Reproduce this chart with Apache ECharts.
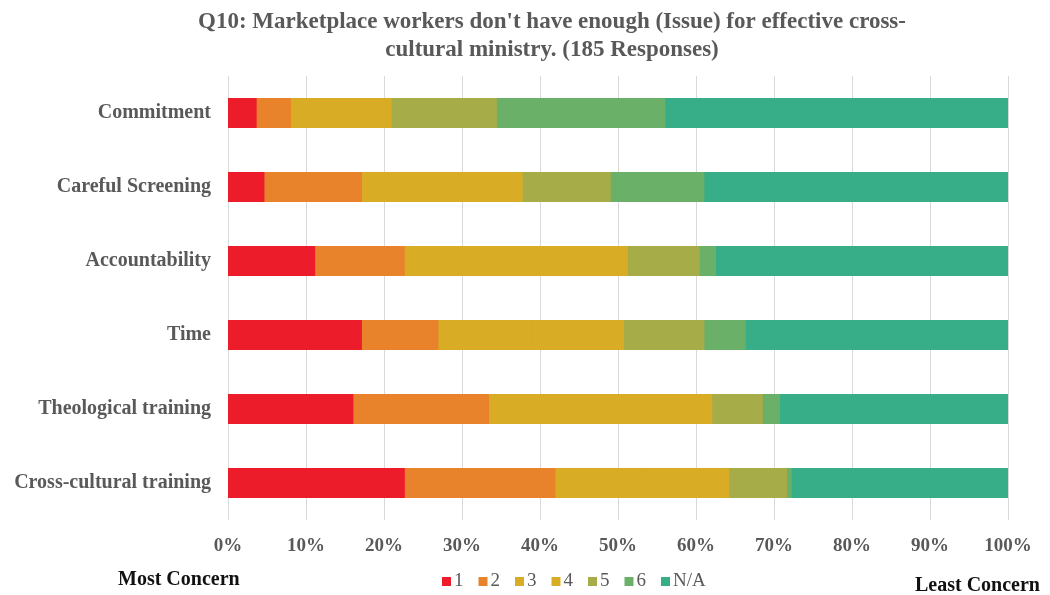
<!DOCTYPE html>
<html>
<head>
<meta charset="utf-8">
<script src="https://cdn.jsdelivr.net/npm/echarts@6/dist/echarts.min.js"></script>
<style>
  html, body { margin: 0; padding: 0; background: #fff; }
  #chart { width: 1050px; height: 595px; }
</style>
</head>
<body>
<div id="chart"></div>
<script>
// Issues, listed top to bottom
const categories = ['Commitment', 'Careful Screening', 'Accountability', 'Time', 'Theological training', 'Cross-cultural training'];

// Share of responses (%) for each rating, one value per issue
const rating1  = [3.8, 4.8, 11.3, 17.3, 16.2, 22.8];
const rating2  = [4.4, 12.5, 11.5, 9.8, 17.4, 19.3];
const rating3  = [6.5, 10.3, 14.1, 11.9, 14.1, 11.4];
const rating4  = [6.4, 10.3, 14.5, 11.9, 14.5, 10.9];
const rating5  = [13.5, 11.3, 9.2, 10.3, 6.5, 7.4];
const rating6  = [21.6, 12.0, 2.1, 5.3, 2.2, 0.6];
const ratingNA = [43.8, 38.8, 37.3, 33.5, 29.1, 27.6];

const seriesNames = ['1', '2', '3', '4', '5', '6', 'N/A'];
const seriesData = [rating1, rating2, rating3, rating4, rating5, rating6, ratingNA];
const seriesColors = ['#ED1C2B', '#E8822B', '#D9AC26', '#D9AC26', '#A6AC48', '#6BB068', '#37AE88'];

const xTicks = { min: 0, max: 100, interval: 10 };

const serif = '"Liberation Serif", "DejaVu Serif", serif';
const titleText = "Q10: Marketplace workers don't have enough (Issue) for effective cross-\ncultural ministry. (185 Responses)";

const chart = echarts.init(document.getElementById('chart'), null, { renderer: 'canvas' });

chart.setOption({
  backgroundColor: '#ffffff',
  animation: false,
  color: seriesColors,
  legend: {
    data: seriesNames,
    left: 437,
    top: 567,
    itemWidth: 9,
    itemHeight: 9,
    itemGap: 15,
    icon: 'rect',
    textStyle: {
      fontFamily: serif,
      fontSize: 19,
      color: '#595959',
      padding: [0, 0, 0, -2]
    }
  },
  grid: {
    left: 228,
    right: 42,
    top: 76,
    bottom: 75,
    containLabel: false
  },
  xAxis: {
    type: 'value',
    min: xTicks.min,
    max: xTicks.max,
    interval: xTicks.interval,
    axisLine: { show: false },
    axisTick: { show: false },
    splitLine: { show: true, lineStyle: { color: '#d9d9d9', width: 1 } },
    axisLabel: {
      formatter: '{value}%',
      fontFamily: serif,
      fontWeight: 'bold',
      fontSize: 19,
      color: '#595959',
      margin: 17
    }
  },
  yAxis: {
    type: 'category',
    data: categories,
    inverse: true,
    axisLine: { show: false },
    axisTick: { show: false },
    splitLine: { show: false },
    axisLabel: {
      fontFamily: serif,
      fontWeight: 'bold',
      fontSize: 20,
      color: '#595959',
      margin: 17
    }
  },
  series: seriesNames.map((name, i) => ({
    name: name,
    type: 'bar',
    stack: 'total',
    barWidth: 30,
    data: seriesData[i],
    // a 1px same-colour shadow to the left closes the seam with the previous segment
    itemStyle: i === 0
      ? { color: seriesColors[i] }
      : { color: seriesColors[i], shadowColor: seriesColors[i], shadowBlur: 0, shadowOffsetX: -1, shadowOffsetY: 0 }
  })),
  graphic: [
    {
      type: 'text',
      x: 552,
      y: 8,
      style: {
        text: titleText,
        align: 'center',
        fontFamily: serif,
        fontWeight: 'bold',
        fontSize: 23,
        lineHeight: 28,
        fill: '#595959'
      }
    },
    {
      type: 'text',
      left: 118,
      top: 570,
      style: {
        text: 'Most Concern',
        fontFamily: serif,
        fontWeight: 'bold',
        fontSize: 20,
        fill: '#111111'
      }
    },
    {
      type: 'text',
      left: 915,
      top: 576,
      style: {
        text: 'Least Concern',
        fontFamily: serif,
        fontWeight: 'bold',
        fontSize: 20,
        fill: '#111111'
      }
    }
  ]
});
</script>
</body>
</html>
